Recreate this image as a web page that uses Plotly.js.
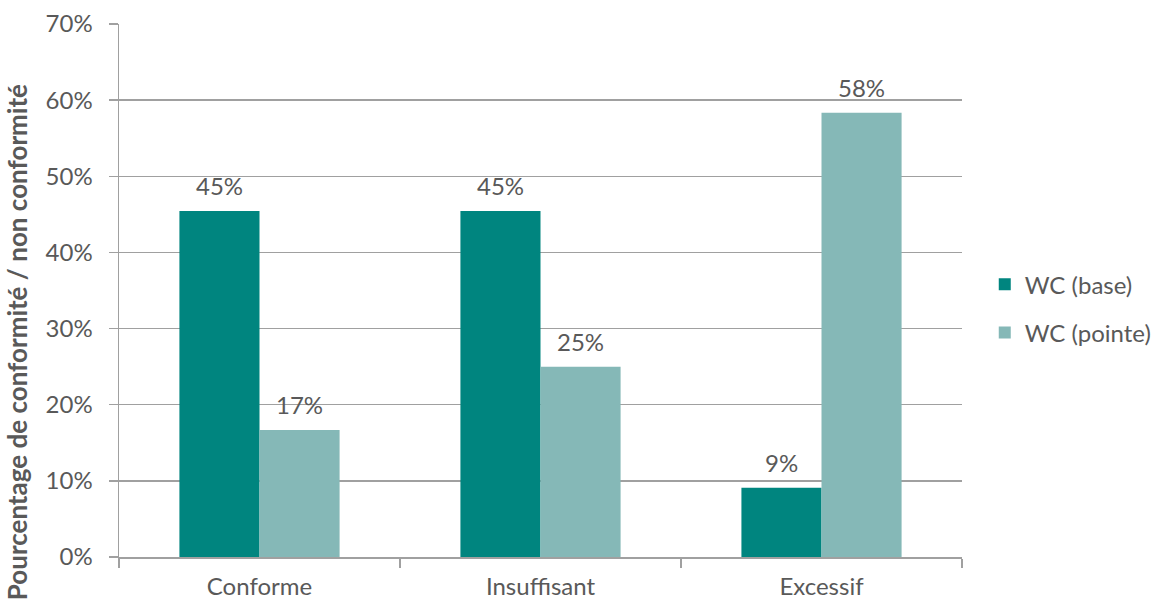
<!DOCTYPE html>
<html><head><meta charset="utf-8">
<script src="https://cdn.plot.ly/plotly-3.0.1.min.js"></script>
<style>html,body{margin:0;padding:0;background:#fff}#chart{width:1156px;height:613px}</style>
</head><body><div id="chart"></div>
<script>
const categories = ["Conforme", "Insuffisant", "Excessif"];
const baseValues = [45.45, 45.45, 9.09];
const pointeValues = [16.67, 25.0, 58.33];
const seriesNames = ["WC (base)", "WC (pointe)"];
const yTicks = [0, 10, 20, 30, 40, 50, 60, 70];
const yTitle = "Pourcentage de conformité / non conformité";

const FONT = "Lato, Open Sans, sans-serif";
const GREY = "#595959";
const colors = ["#00857F", "#85B8B7"];
const FS = 24;

const traces = [baseValues, pointeValues].map((vals, i) => ({
  type: "bar", name: seriesNames[i], x: categories, y: vals, legendgroup: "g" + i,
  marker: {color: colors[i], line: {width: 0}},
  hoverinfo: "skip"
}));

const halfBar = (1 - 0.43) / 4;
const annotations = [];
[baseValues, pointeValues].forEach((vals, i) => {
  vals.forEach((v, j) => {
    annotations.push({
      x: j + (i === 0 ? -halfBar : halfBar), y: v, xref: "x", yref: "y",
      text: Math.round(v) + "%", showarrow: false, yanchor: "bottom", yshift: 9,
      font: {family: FONT, size: FS, color: GREY}
    });
  });
});
annotations.push({
  xref: "paper", yref: "paper", x: -0.121, y: 0.403, xanchor: "center", yanchor: "middle",
  textangle: -90, showarrow: false, text: "<b>" + yTitle + "</b>",
  font: {family: FONT, size: 26, color: GREY}
});

const layout = {
  width: 1156, height: 613,
  margin: {l: 119, r: 194, t: 24, b: 56, autoexpand: false},
  paper_bgcolor: "#fff", plot_bgcolor: "#fff",
  barmode: "group", bargap: 0.43, bargroupgap: 0,
  font: {family: FONT, color: GREY, size: FS},
  xaxis: {
    type: "category", showgrid: false, showline: true, linecolor: "#a0a0a0", linewidth: 1.5,
    ticks: "outside", tickson: "boundaries", ticklen: 9, tickcolor: "#a0a0a0", tickwidth: 1.5,
    tickfont: {family: FONT, size: FS, color: GREY}, zeroline: false, ticklabelstandoff: 8
  },
  yaxis: {
    range: [0, 70], tickvals: yTicks, ticktext: yTicks.map(t => t + "%"),
    showgrid: true, gridcolor: "#a0a0a0", gridwidth: 1.5,
    showline: true, linecolor: "#a0a0a0", linewidth: 1.5,
    ticks: "outside", ticklen: 9, tickcolor: "#a0a0a0", tickwidth: 1.5,
    tickfont: {family: FONT, size: FS, color: GREY}, zeroline: false, ticklabelstandoff: 11
  },
  legend: {x: 1.027, y: 0.466, xanchor: "left", yanchor: "middle",
           font: {family: FONT, size: FS, color: GREY}, tracegroupgap: 14, itemwidth: 30},
  annotations: annotations,
  showlegend: true
};

Plotly.newPlot("chart", traces, layout, {displayModeBar: false, staticPlot: true});
</script></body></html>
